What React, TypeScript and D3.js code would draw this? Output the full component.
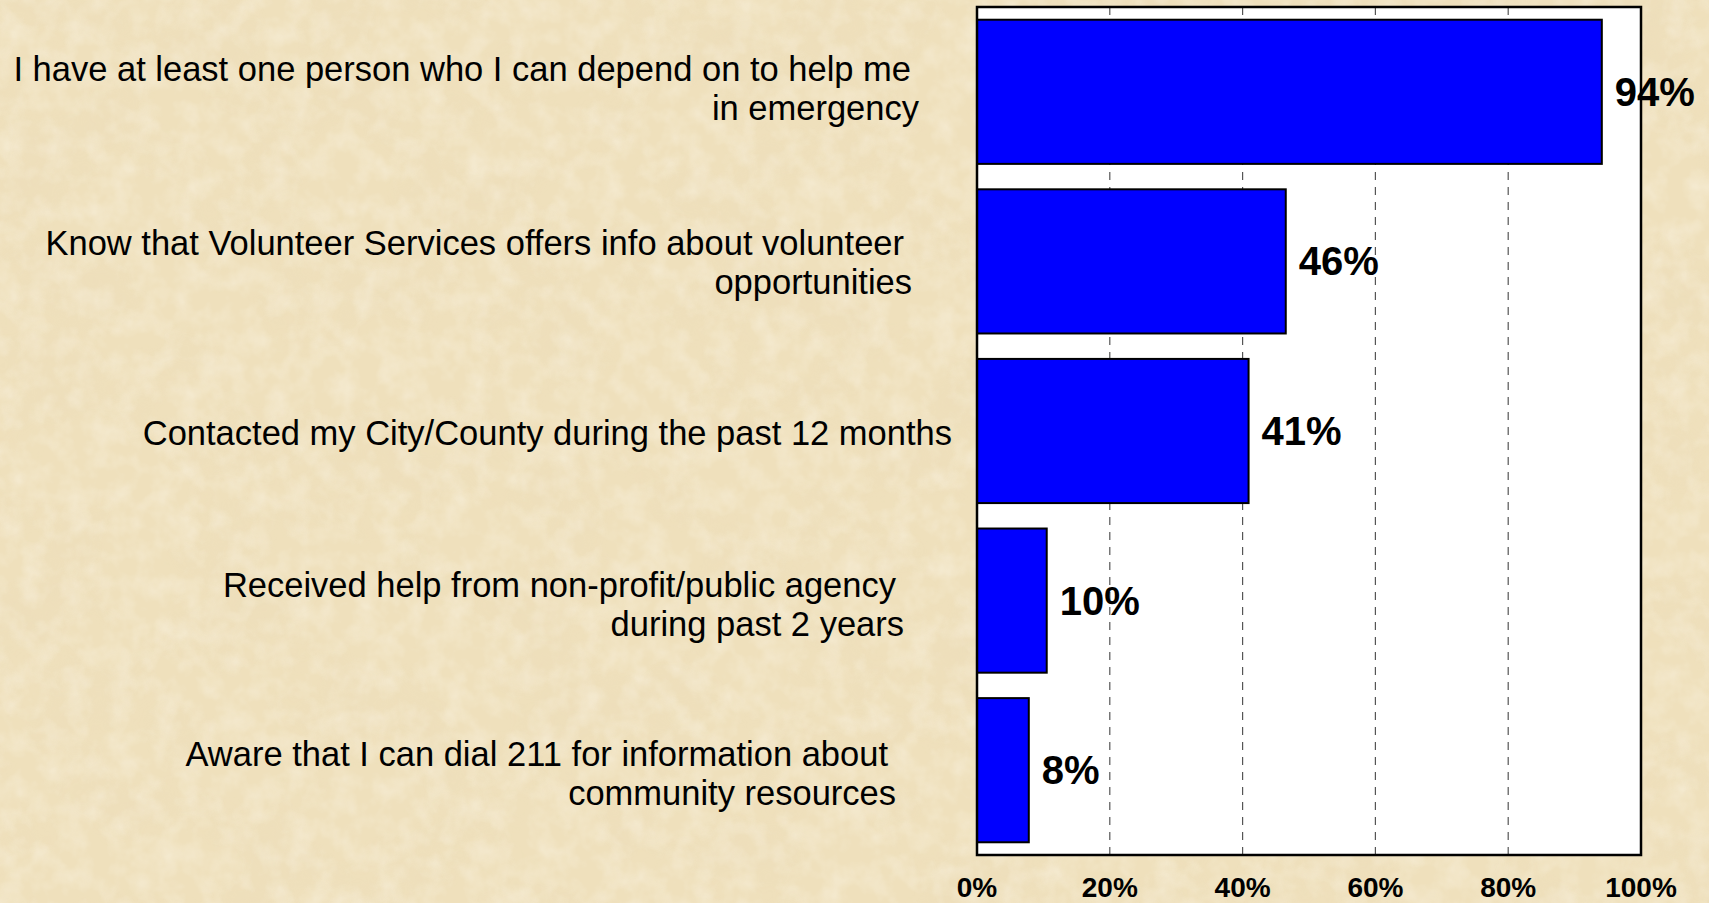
import React from "react";
import * as d3 from "d3";

const categories: string[][] = [
  ["I have at least one person who I can depend on to help me", "in emergency"],
  ["Know that Volunteer Services offers info about volunteer", "opportunities"],
  ["Contacted my City/County during the past 12 months"],
  ["Received help from non-profit/public agency", "during past 2 years"],
  ["Aware that I can dial 211 for information about", "community resources"],
];
const values: number[] = [94.1, 46.5, 40.9, 10.5, 7.8];
const valueLabels: string[] = ["94%", "46%", "41%", "10%", "8%"];
const tickValues: number[] = [0, 20, 40, 60, 80, 100];
const tickLabels: string[] = ["0%", "20%", "40%", "60%", "80%", "100%"];

// layout (not data)
const W = 1709;
const H = 903;
const plot = { left: 977, right: 1641, top: 7, bottom: 855 };
const labelRight = [919, 912, 952, 904, 896];
const labelDy = [-4, 0.5, 1, 3.5, 2.5];
const firstLineShift = 8;

export default function App() {
  React.useEffect(() => {
    document.body.style.margin = "0";
  }, []);

  const x = d3.scaleLinear().domain([0, 100]).range([plot.left, plot.right]);
  const y = d3
    .scaleBand<number>()
    .domain(values.map((_, i) => i))
    .range([plot.top, plot.bottom])
    .paddingInner(0.15)
    .paddingOuter(0.075);

  const font = "'Liberation Sans', Arial, sans-serif";
  const lineH = 39;

  return (
    <svg
      width={W}
      height={H}
      style={{ position: "absolute", left: 0, top: 0, display: "block" }}
      fontFamily={font}
    >
      <defs>
        <filter id="paper" x="0" y="0" width="100%" height="100%">
          <feTurbulence type="fractalNoise" baseFrequency="0.01 0.012" numOctaves={4} seed={7} result="noise" />
          <feColorMatrix
            in="noise"
            type="matrix"
            values="0 0 0 0 0.82  0 0 0 0 0.70  0 0 0 0 0.48  1.4 0 0 0 -0.6"
            result="tint"
          />
          <feComposite in="tint" in2="SourceGraphic" operator="in" />
        </filter>
        <filter id="paper2" x="0" y="0" width="100%" height="100%">
          <feTurbulence type="fractalNoise" baseFrequency="0.045" numOctaves={3} seed={3} result="noise" />
          <feColorMatrix
            in="noise"
            type="matrix"
            values="0 0 0 0 1  0 0 0 0 0.98  0 0 0 0 0.92  1.2 0 0 0 -0.45"
          />
          <feComposite in2="SourceGraphic" operator="in" />
        </filter>
      </defs>
      <rect x={0} y={0} width={W} height={H} fill="#efe0bc" />
      <rect x={0} y={0} width={W} height={H} fill="#fff" filter="url(#paper)" opacity={0.45} />
      <rect x={0} y={0} width={W} height={H} fill="#fff" filter="url(#paper2)" opacity={0.5} />

      {/* plot area */}
      <rect
        x={plot.left}
        y={plot.top}
        width={plot.right - plot.left}
        height={plot.bottom - plot.top}
        fill="#ffffff"
      />
      {tickValues
        .filter((t) => t > 0 && t < 100)
        .map((t) => (
          <line
            key={t}
            x1={x(t)}
            x2={x(t)}
            y1={plot.top}
            y2={plot.bottom}
            stroke="#555"
            strokeWidth={1.2}
            strokeDasharray="8 7"
          />
        ))}

      {values.map((v, i) => (
        <rect
          key={i}
          x={x(0)}
          y={y(i)!}
          width={x(v) - x(0)}
          height={y.bandwidth()}
          fill="#0000ff"
          stroke="#000"
          strokeWidth={2}
        />
      ))}

      <rect
        x={plot.left}
        y={plot.top}
        width={plot.right - plot.left}
        height={plot.bottom - plot.top}
        fill="none"
        stroke="#000"
        strokeWidth={2.5}
      />

      {values.map((v, i) => (
        <text
          key={i}
          x={x(v) + 13}
          y={y(i)! + y.bandwidth() / 2 + 14}
          fontSize={40}
          fontWeight="bold"
          fill="#000"
        >
          {valueLabels[i]}
        </text>
      ))}

      {categories.map((lines, i) => {
        const cy = y(i)! + y.bandwidth() / 2;
        const n = lines.length;
        const baseFirst = cy + 12.5 - ((n - 1) * lineH) / 2 + labelDy[i];
        return (
          <g key={i}>
            {lines.map((ln, j) => (
              <text
                key={j}
                x={labelRight[i] - (n > 1 && j === 0 ? firstLineShift : 0)}
                y={baseFirst + j * lineH}
                textAnchor="end"
                fontSize={34.5}
                fill="#000"
              >
                {ln}
              </text>
            ))}
          </g>
        );
      })}

      {tickValues.map((t, i) => (
        <text
          key={t}
          x={x(t)}
          y={897}
          textAnchor="middle"
          fontSize={28}
          fontWeight="bold"
          fill="#000"
        >
          {tickLabels[i]}
        </text>
      ))}
    </svg>
  );
}
